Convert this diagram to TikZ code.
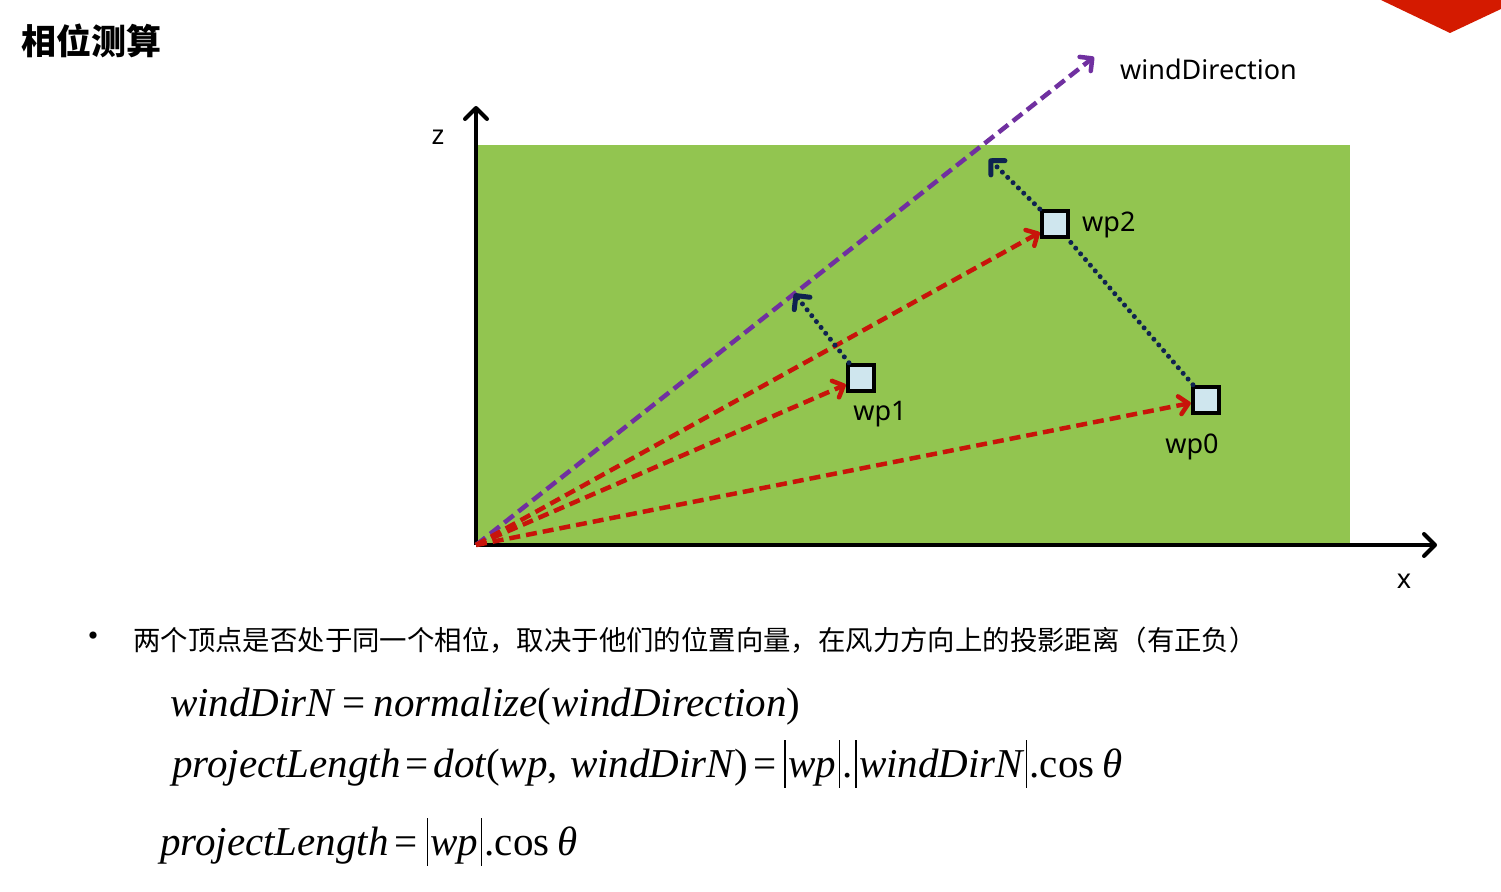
\documentclass[tikz,border=0pt]{standalone}
\usepackage{fontspec}
\setmainfont{Noto Sans}
\newfontfamily\cjk{Noto Sans CJK SC}
\newfontfamily\eqfont{Liberation Serif}
\usetikzlibrary{arrows.meta,calc}
\definecolor{fieldgreen}{HTML}{92C550}
\definecolor{wpblue}{HTML}{CFE6EE}
\definecolor{vecred}{HTML}{C8140A}
\definecolor{windpurple}{HTML}{7030A0}
\definecolor{projblue}{HTML}{0F2350}
\definecolor{cornerred}{HTML}{D41A00}
\newcommand\absbar{\hspace{0.06em}\rule[-0.26em]{0.035em}{1.16em}\hspace{0.06em}}
\tikzset{
  wpbox/.style={draw=black, line width=4.5pt, fill=wpblue, minimum size=26pt, inner sep=0pt},
  vec/.style={vecred, line width=4.5pt, dash pattern=on 11pt off 6pt, -{Straight Barb[length=9pt,width=18pt,round]}},
  wind/.style={windpurple, line width=4.5pt, dash pattern=on 12pt off 6pt, -{Straight Barb[length=9pt,width=18pt,round]}},
  proj/.style={projblue, line width=5pt, line cap=round, dash pattern=on 0pt off 7.5pt, -{Straight Barb[length=10pt,width=20pt,round]}},
  axis/.style={line width=4pt, -{Straight Barb[length=11pt,width=22pt,round]}},
  lbl/.style={font=\fontsize{27}{31}\selectfont, inner sep=0pt},
  eq/.style={font=\eqfont\fontsize{41}{46}\selectfont\itshape, inner sep=0pt, anchor=base west}
}
\begin{document}
\begin{tikzpicture}[x=1pt,y=-1pt]
\useasboundingbox (0,0) rectangle (1501,891);
% corner mark and field
\fill[cornerred] (1381,0) -- (1450,33) -- (1501,9) -- (1501,0) -- cycle;
\fill[fieldgreen] (477,145) rectangle (1350,545);
% axes
\coordinate (O) at (476,545);
\coordinate (zend) at (476,106);
\coordinate (xend) at (1437,545);
\coordinate (wd) at (1094,57);
\draw[axis] (O) -- (zend);
\draw[axis] (O) -- (xend);
\node[lbl] (zlbl) at (438,137) {z};
\node[lbl] (xlbl) at (1404,581) {x};
% points
\node[wpbox] (wp1) at (861,378) {};
\node[wpbox] (wp2) at (1055,224) {};
\node[wpbox] (wp0) at (1206,400) {};
\node[lbl] (wp1lbl) at (880,414) {wp1};
\node[lbl, anchor=west] (wp2lbl) at (1082,225) {wp2};
\node[lbl] (wp0lbl) at (1192,447) {wp0};
% vectors
\draw[wind] (O) -- (wd);
\node[lbl, anchor=west] (wdlbl) at (1120,69) {windDirection};
\draw[vec] (O) -- (wp1);
\draw[vec] (O) -- (wp2);
\draw[vec] (O) -- (wp0);
% projections
\coordinate (wp1p) at ($(O)!(wp1)!(wd)$);
\coordinate (wp2p) at (989,159);
\draw[proj] (wp1) -- (wp1p);
\draw[proj, -] (wp0) -- (wp2);
\draw[proj] (wp2) -- (wp2p);
% texts
\node[font=\cjk\bfseries\fontsize{35}{40}\selectfont, inner sep=0pt, anchor=west] (title) at (21,41) {相位测算};
\node[font=\cjk\fontsize{34}{38}\selectfont, inner sep=0pt] (bullet) at (93,640) {•};
\node[font=\cjk\fontsize{27.4}{32}\selectfont, inner sep=0pt, anchor=west] (note) at (133,640) {两个顶点是否处于同一个相位，取决于他们的位置向量，在风力方向上的投影距离（有正负）};
\node[eq] (eq1) at (170,716) {windDirN\hspace{0.2em}{\upshape =}\hspace{0.2em}normalize{\upshape (}windDirection{\upshape )}};
\node[eq] (eq2) at (172,777) {projectLength\hspace{0.12em}{\upshape =}\hspace{0.12em}dot{\upshape (}wp{\upshape ,}\hspace{0.05em} windDirN{\upshape )}\hspace{0.15em}{\upshape =}\hspace{0.12em}\absbar wp\absbar{\upshape .}\absbar windDirN\absbar{\upshape .cos}\hspace{0.2em}θ};
\node[eq] (eq3) at (160,855) {projectLength\hspace{0.15em}{\upshape =}\hspace{0.15em}\absbar wp\absbar{\upshape .cos}\hspace{0.2em}θ};
\end{tikzpicture}
\end{document}
